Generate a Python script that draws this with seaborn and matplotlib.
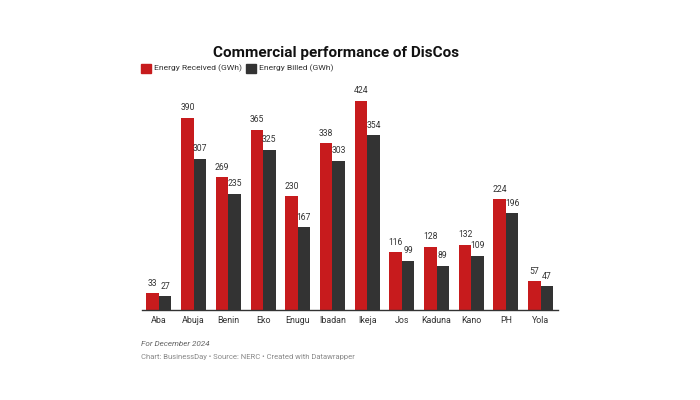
import matplotlib
matplotlib.use("Agg")
import matplotlib.pyplot as plt
import seaborn as sns
import pandas as pd
from matplotlib.patches import Rectangle

discos = ["Aba", "Abuja", "Benin", "Eko", "Enugu", "Ibadan", "Ikeja", "Jos", "Kaduna", "Kano", "PH", "Yola"]
energy_received = [33, 390, 269, 365, 230, 338, 424, 116, 128, 132, 224, 57]
energy_billed = [27, 307, 235, 325, 167, 303, 354, 99, 89, 109, 196, 47]
series_names = ["Energy Received (GWh)", "Energy Billed (GWh)"]
colors = ["#c71b1d", "#333333"]

df = pd.DataFrame({
    "DisCo": discos * 2,
    "Value": energy_received + energy_billed,
    "Series": [series_names[0]] * len(discos) + [series_names[1]] * len(discos),
})

sns.set_style("white")
plt.rcParams["font.family"] = ["Roboto", "DejaVu Sans"]

fig = plt.figure(figsize=(7, 4), dpi=100)
ax = fig.add_axes([141.6 / 700, 1 - 309.5 / 400, 416.4 / 700, 208.5 / 400])
sns.barplot(data=df, x="DisCo", y="Value", hue="Series", palette=colors,
            width=0.72, ax=ax, legend=False, saturation=1, linewidth=0)
ax.set_ylim(0, 424)
ax.set_xlim(-0.5, len(discos) - 0.5)
for c in ax.containers:
    ax.bar_label(c, fmt="%d", padding=4, fontsize=6.2, color="#333333")
for s in ["top", "right", "left"]:
    ax.spines[s].set_visible(False)
ax.spines["bottom"].set_color("#333333")
ax.spines["bottom"].set_linewidth(1)
ax.set_yticks([])
ax.set_xlabel("")
ax.set_ylabel("")
ax.tick_params(axis="x", length=0, labelsize=6.4, labelcolor="#333333", pad=5)

fig.text(336 / 700, 1 - 56.5 / 400, "Commercial performance of DisCos", ha="center", va="baseline",
         fontsize=11, fontweight="bold", color="#111111")

# legend
ly = 1 - 68 / 400
sq_w, sq_h = 10 / 700, 9 / 400
for x0, name, col in [(141, series_names[0], colors[0]), (246, series_names[1], colors[1])]:
    fig.patches.append(Rectangle((x0 / 700, ly - sq_h / 2), sq_w, sq_h,
                                 transform=fig.transFigure, color=col))
    fig.text((x0 + 13) / 700, ly, name, fontsize=6.1, va="center", color="#333333")

fig.text(141 / 700, 1 - 345.5 / 400, "For December 2024", fontsize=5.9, style="italic",
         color="#666666", va="baseline")
fig.text(141 / 700, 1 - 359 / 400, "Chart: BusinessDay • Source: NERC • Created with Datawrapper",
         fontsize=5.5, color="#888888", va="baseline")

fig.savefig("out.png", dpi=100, facecolor="white")
